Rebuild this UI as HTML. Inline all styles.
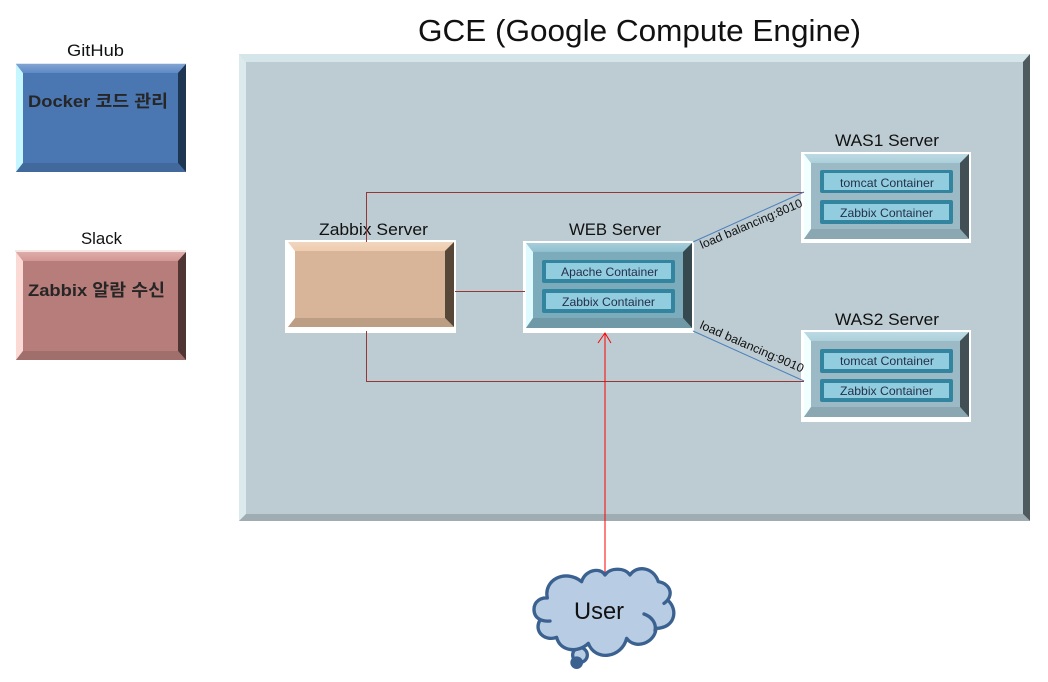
<!DOCTYPE html>
<html><head><meta charset="utf-8"><style>
html,body{margin:0;padding:0;background:#fff}
svg{display:block}
text{font-family:"Liberation Sans","Noto Sans CJK KR",sans-serif;fill:#111}
.c{font-size:12px;fill:#24304a}
.h{font-size:17px}
.b{font-size:17px;font-weight:bold;fill:#262626}
.o{fill:#33849f}
.i{fill:#92cddf}
.l{fill:url(#tg)}
.d{fill:url(#bg)}
</style></head><body>
<svg width="1048" height="682" viewBox="0 0 1048 682" xmlns="http://www.w3.org/2000/svg">
<defs>
<linearGradient id="tg" x1="0" y1="0" x2="0" y2="1"><stop offset="0" stop-color="#fff" stop-opacity=".22"/><stop offset="1" stop-color="#fff" stop-opacity="0"/></linearGradient>
<linearGradient id="bg" x1="0" y1="0" x2="0" y2="1"><stop offset="0" stop-color="#000" stop-opacity="0"/><stop offset="1" stop-color="#000" stop-opacity=".12"/></linearGradient>
</defs>
<rect width="1048" height="682" fill="#fff"/>
<text x="418" y="41" font-size="31" textLength="443" lengthAdjust="spacingAndGlyphs">GCE (Google Compute Engine)</text>

<!-- GCE box -->
<rect x="239" y="54" width="791" height="467" fill="#bdccd2"/>
<polygon points="239,54 1030,54 1023,62 246,62" fill="#d5e6ea"/>
<polygon points="239,54 246,62 246,514 239,521" fill="#dceaee"/>
<polygon points="1030,54 1030,521 1023,514 1023,62" fill="#4e5a5e"/>
<polygon points="239,521 246,514 1023,514 1030,521" fill="#9fadb2"/>

<!-- GitHub -->
<text class="h" x="67" y="56" textLength="57" lengthAdjust="spacingAndGlyphs">GitHub</text>
<rect x="16" y="63" width="170" height="109" fill="#dce8f5"/>
<rect x="16" y="64" width="170" height="108" fill="#4a76b2"/>
<polygon points="16,64 186,64 178,73 23,73" fill="#5e8ac5"/>
<polygon points="16,64 186,64 178,73 23,73" class="l"/>
<polygon points="16,64 23,73 23,163 16,172" fill="#c6f6ff"/>
<polygon points="186,64 186,172 178,163 178,73" fill="#1f3653"/>
<polygon points="16,172 23,163 178,163 186,172" fill="#41699b"/>
<text class="b" x="28" y="107" textLength="140" lengthAdjust="spacingAndGlyphs">Docker 코드 관리</text>

<!-- Slack -->
<text class="h" x="81" y="244" textLength="41" lengthAdjust="spacingAndGlyphs">Slack</text>
<rect x="15" y="250" width="171" height="2" fill="#f5e6e4"/>
<rect x="16" y="252" width="170" height="108" fill="#b77d7a"/>
<polygon points="16,252 186,252 178,261 23,261" fill="#d39693"/>
<polygon points="16,252 186,252 178,261 23,261" class="l"/>
<polygon points="16,252 23,261 23,351 16,360" fill="#fbd9d5"/>
<polygon points="186,252 186,360 178,351 178,261" fill="#4f3533"/>
<polygon points="16,360 23,351 178,351 186,360" fill="#a06f6c"/>
<text class="b" x="28" y="296" textLength="137" lengthAdjust="spacingAndGlyphs">Zabbix 알람 수신</text>

<!-- Zabbix Server -->
<rect x="285" y="240" width="171" height="93" fill="#fff"/>
<rect x="288" y="242" width="166" height="85" fill="#d8b598"/>
<polygon points="288,242 454,242 445,251 295,251" fill="#eecbad"/>
<polygon points="288,242 454,242 445,251 295,251" class="l"/>
<polygon points="288,242 295,251 295,318 288,327" fill="#fff"/>
<polygon points="454,242 454,327 445,318 445,251" fill="#574739"/>
<polygon points="288,327 295,318 445,318 454,327" fill="#bc9e85"/>

<!-- WEB Server -->
<rect x="523" y="241" width="171" height="92" fill="#fff"/>
<rect x="526" y="243" width="166" height="85" fill="#7cacbb"/>
<polygon points="526,243 692,243 683,252 533,252" fill="#8fc0cf"/>
<polygon points="526,243 692,243 683,252 533,252" class="l"/>
<polygon points="526,243 533,252 533,318 526,328" fill="#dffaff"/>
<polygon points="692,243 692,328 683,318 683,252" fill="#36494f"/>
<polygon points="526,328 533,318 683,318 692,328" fill="#6f99a6"/>
<rect class="o" x="542" y="260" width="133" height="23" rx="2"/><rect class="i" x="546" y="263" width="125" height="16"/>
<rect class="o" x="542" y="289" width="133" height="24" rx="2"/><rect class="i" x="546" y="293" width="125" height="16"/>
<text class="c" x="561" y="276" textLength="97" lengthAdjust="spacingAndGlyphs">Apache Container</text>
<text class="c" x="562" y="306" textLength="93" lengthAdjust="spacingAndGlyphs">Zabbix  Container</text>

<!-- WAS1 -->
<rect x="801" y="152" width="170" height="91" fill="#fff"/>
<rect x="804" y="154" width="165" height="85" fill="#9bbac5"/>
<polygon points="804,154 969,154 960,163 811,163" fill="#abd0db"/>
<polygon points="804,154 969,154 960,163 811,163" class="l"/>
<polygon points="804,154 811,163 811,229 804,239" fill="#f2ffff"/>
<polygon points="969,154 969,239 960,229 960,163" fill="#425055"/>
<polygon points="804,239 811,229 960,229 969,239" fill="#8ba7b1"/>
<rect class="o" x="820" y="170" width="133" height="23" rx="2"/><rect class="i" x="824" y="173" width="125" height="17"/>
<rect class="o" x="820" y="200" width="133" height="24" rx="2"/><rect class="i" x="824" y="204" width="125" height="16"/>
<text class="c" x="840" y="187" textLength="94" lengthAdjust="spacingAndGlyphs">tomcat Container</text>
<text class="c" x="840" y="217" textLength="93" lengthAdjust="spacingAndGlyphs">Zabbix  Container</text>

<!-- WAS2 -->
<rect x="801" y="330" width="170" height="92" fill="#fff"/>
<rect x="804" y="332" width="165" height="85" fill="#9bbac5"/>
<polygon points="804,332 969,332 960,341 811,341" fill="#abd0db"/>
<polygon points="804,332 969,332 960,341 811,341" class="l"/>
<polygon points="804,332 811,341 811,407 804,417" fill="#f2ffff"/>
<polygon points="969,332 969,417 960,407 960,341" fill="#425055"/>
<polygon points="804,417 811,407 960,407 969,417" fill="#8ba7b1"/>
<rect class="o" x="820" y="349" width="133" height="24" rx="2"/><rect class="i" x="824" y="353" width="125" height="16"/>
<rect class="o" x="820" y="379" width="133" height="23" rx="2"/><rect class="i" x="824" y="383" width="125" height="15"/>
<text class="c" x="840" y="365" textLength="94" lengthAdjust="spacingAndGlyphs">tomcat Container</text>
<text class="c" x="840" y="395" textLength="93" lengthAdjust="spacingAndGlyphs">Zabbix  Container</text>

<!-- labels -->
<text class="h" x="319" y="235" textLength="109" lengthAdjust="spacingAndGlyphs">Zabbix Server</text>
<text class="h" x="569" y="235" textLength="92" lengthAdjust="spacingAndGlyphs">WEB Server</text>
<text class="h" x="835" y="146" textLength="104" lengthAdjust="spacingAndGlyphs">WAS1 Server</text>
<text class="h" x="835" y="325" textLength="104" lengthAdjust="spacingAndGlyphs">WAS2 Server</text>

<!-- connectors -->
<polyline points="366.5,242 366.5,192.5 804,192.5" fill="none" stroke="#953735" stroke-width="1"/>
<polyline points="366.5,331 366.5,381.5 804,381.5" fill="none" stroke="#953735" stroke-width="1"/>
<line x1="455" y1="291.5" x2="525" y2="291.5" stroke="#953735" stroke-width="1"/>
<line x1="693" y1="242" x2="804" y2="192" stroke="#4f81bd" stroke-width="1"/>
<line x1="693" y1="331" x2="804" y2="381" stroke="#4f81bd" stroke-width="1"/>

<!-- link labels -->
<text transform="translate(702,249) rotate(-23)" font-size="12" textLength="110" lengthAdjust="spacingAndGlyphs">load  balancing:8010</text>
<text transform="translate(699,328) rotate(23.5)" font-size="12" textLength="112" lengthAdjust="spacingAndGlyphs">load  balancing:9010</text>

<!-- user arrow -->
<line x1="605" y1="575" x2="605" y2="333" stroke="#f00" stroke-width="1"/>
<polyline points="598,343 605,333 611,343" fill="none" stroke="#f00" stroke-width="1"/>

<!-- cloud -->
<g transform="translate(520,560) scale(0.3333)" stroke="#3a618f" stroke-width="10" fill="#b8cce4" stroke-linecap="round" stroke-linejoin="round">
<circle cx="180" cy="285" r="22"/>
<circle cx="170" cy="308" r="14" fill="#3a618f"/>
<path stroke="none" d="M60,180 C42,178 42,148 42,148 C42,125 62,112 82,114 C70,60 135,25 185,65 C195,30 240,20 255,45 C270,22 315,22 330,45 C350,15 400,20 415,65 C455,72 462,110 445,122 C475,150 465,205 408,205 C405,250 345,270 320,235 C305,295 225,305 205,250 C175,280 120,275 110,232 C75,245 40,215 60,180 Z"/>
<path fill="none" d="M90,183 C70,185 42,178 42,148 C42,125 62,112 82,114 C70,60 135,25 185,65 C195,30 240,20 255,45 C270,22 315,22 330,45 C350,15 400,20 415,65 C455,72 462,110 432,130 M445,122 C475,150 465,205 408,205 C405,250 345,270 320,235 C305,295 225,305 205,250 C175,280 120,275 110,232 C75,245 40,215 60,180 M372,162 C395,170 410,190 405,212"/>
</g>
<text x="574" y="619" font-size="24" textLength="50" lengthAdjust="spacingAndGlyphs">User</text>
</svg>
</body></html>
